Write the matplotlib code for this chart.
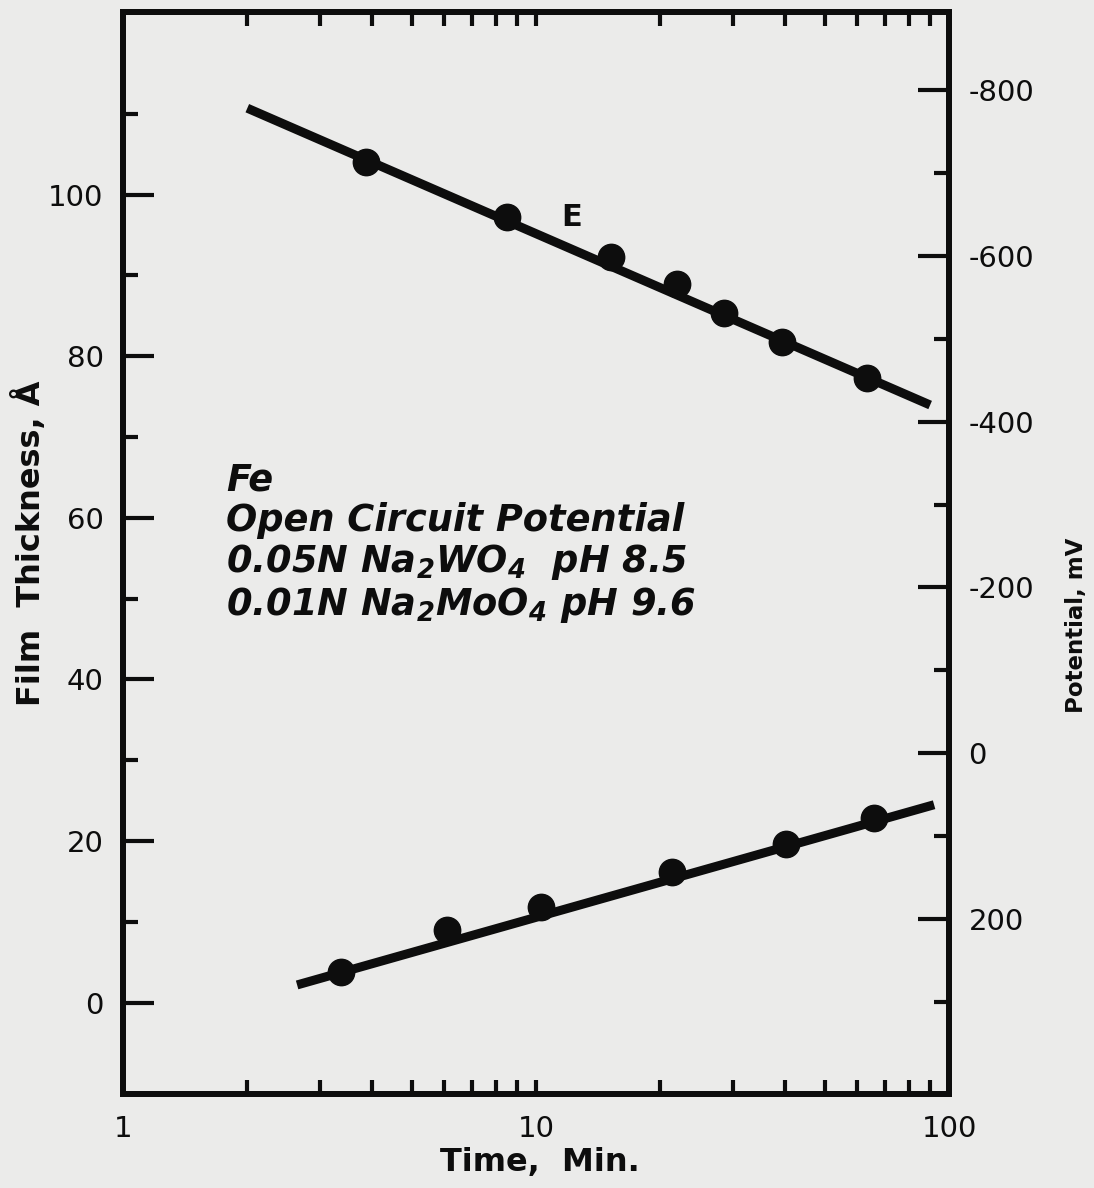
import matplotlib
matplotlib.use("Agg")
import matplotlib.pyplot as plt
from matplotlib.ticker import FixedLocator, FixedFormatter, NullFormatter

# data
# potential curve (E), right axis, mV
time_e = [3.87, 8.5, 15.2, 21.9, 28.5, 39.5, 63.4]
pot_e = [-713, -647, -599, -566, -531, -496, -453]
e_fit_t = [2.0, 90]
e_fit_v = [-778, -420]

# film thickness, left axis, Angstrom
time_f = [3.37, 6.08, 10.3, 21.4, 40.4, 65.9]
thick_f = [3.8, 9.0, 11.8, 16.2, 19.6, 22.9]
f_fit_t = [2.64, 92]
f_fit_y = [2.2, 24.5]

left_ticks = [0, 20, 40, 60, 80, 100]
right_ticks = [-800, -600, -400, -200, 0, 200]
right_labels = ["-800", "-600", "-400", "-200", "0", "200"]

plt.rcParams["mathtext.default"] = "regular"
ink = "#0d0d0d"
paper = "#ebebea"

fig = plt.figure(figsize=(10.94, 11.88), dpi=100, facecolor=paper)
ax = fig.add_axes([0.1124, 0.0791, 0.7551, 0.9108])
ax.set_facecolor(paper)
ax2 = ax.twinx()

ax.set_xscale("log")
ax.set_xlim(1, 100)
ax.set_ylim(-11.3, 122.6)
ax2.set_ylim(411, -894)

# lines and points
ax.plot(f_fit_t, f_fit_y, color=ink, lw=6.5, solid_capstyle="butt")
ax.plot(time_f, thick_f, "o", color=ink, ms=19)
ax2.plot(e_fit_t, e_fit_v, color=ink, lw=6.5, solid_capstyle="butt")
ax2.plot(time_e, pot_e, "o", color=ink, ms=19)

for a in (ax, ax2):
    for s in a.spines.values():
        s.set_linewidth(4.3)
        s.set_color(ink)

# x ticks
ax.xaxis.set_major_locator(FixedLocator([1, 10, 100]))
ax.xaxis.set_major_formatter(FixedFormatter(["1", "10", "100"]))
ax.xaxis.set_minor_locator(FixedLocator([2, 3, 4, 5, 6, 7, 8, 9, 20, 30, 40, 50, 60, 70, 80, 90]))
ax.xaxis.set_minor_formatter(NullFormatter())
ax.tick_params(axis="x", which="both", direction="in", top=True, length=10, width=3,
               color=ink, pad=15, labelsize=21)

# left ticks
ax.yaxis.set_major_locator(FixedLocator(left_ticks))
ax.yaxis.set_minor_locator(FixedLocator([10, 30, 50, 70, 90, 110]))
ax.yaxis.set_minor_formatter(NullFormatter())
ax.tick_params(axis="y", which="major", direction="in", length=22, width=3, color=ink,
               pad=14, labelsize=21)
ax.tick_params(axis="y", which="minor", direction="in", length=11, width=3, color=ink)

# right ticks
ax2.yaxis.set_major_locator(FixedLocator(right_ticks))
ax2.yaxis.set_major_formatter(FixedFormatter(right_labels))
ax2.yaxis.set_minor_locator(FixedLocator([-700, -500, -300, -100, 100, 300]))
ax2.yaxis.set_minor_formatter(NullFormatter())
ax2.tick_params(axis="y", which="major", direction="in", length=22, width=3, color=ink,
                pad=14, labelsize=21)
ax2.tick_params(axis="y", which="minor", direction="in", length=11, width=3, color=ink)

for lab in ax.get_xticklabels() + ax.get_yticklabels() + ax2.get_yticklabels():
    lab.set_color(ink)

# text
fig.text(561 / 1094, 1 - 218 / 1188, "E", fontsize=22, fontweight="bold", color=ink,
         ha="left", va="center")

note = ["Fe", "Open Circuit Potential",
        "0.05N Na$_2$WO$_4$  pH 8.5",
        "0.01N Na$_2$MoO$_4$ pH 9.6"]
fig.text(226 / 1094, 1 - 462 / 1188, "\n".join(note), fontsize=26.5,
         family="DejaVu Sans", style="italic", fontweight="bold", color=ink,
         ha="left", va="top", linespacing=1.1)

fig.text(30 / 1094, 1 - 543 / 1188, "Film  Thickness, Å", rotation=90, fontsize=23,
         fontweight="bold", color=ink, ha="center", va="center")
fig.text(1076 / 1094, 1 - 625 / 1188, "Potential, mV", rotation=90, fontsize=16.5,
         fontweight="bold", color=ink, ha="center", va="center")
fig.text(540 / 1094, 1 - 1163 / 1188, "Time,  Min.", fontsize=23,
         fontweight="bold", color=ink, ha="center", va="center")

fig.savefig("out.png", dpi=100, facecolor=paper)
